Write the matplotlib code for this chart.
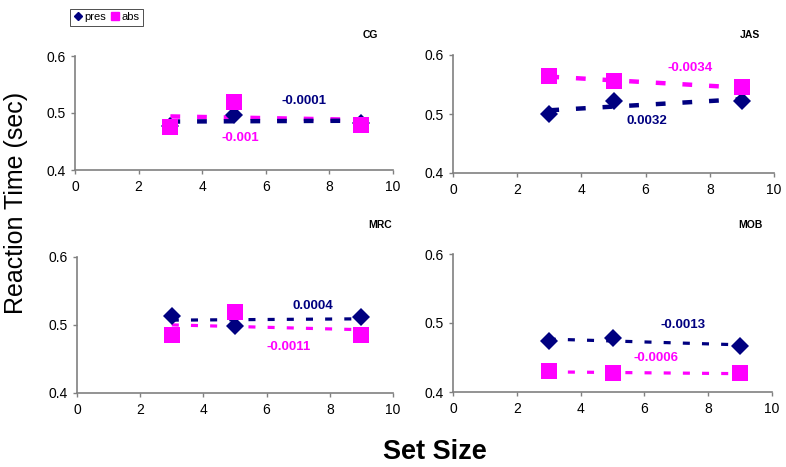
import numpy as np
import matplotlib
matplotlib.use("Agg")
import matplotlib.pyplot as plt
from matplotlib.lines import Line2D

plt.rcParams['font.family'] = ['Liberation Sans', 'DejaVu Sans']

set_size = [3, 5, 9]
panels = ["CG", "JAS", "MRC", "MOB"]

pres = {
    "CG":  [0.478, 0.496, 0.483],
    "JAS": [0.500, 0.522, 0.522],
    "MRC": [0.513, 0.499, 0.512],
    "MOB": [0.474, 0.478, 0.467],
}
pres_err = {
    "CG":  [0.008, 0.003, 0.010],
    "JAS": [0.003, 0.004, 0.003],
    "MRC": [0.004, 0.004, 0.009],
    "MOB": [0.002, 0.003, 0.002],
}
absent = {
    "CG":  [0.476, 0.519, 0.479],
    "JAS": [0.564, 0.556, 0.545],
    "MRC": [0.486, 0.519, 0.486],
    "MOB": [0.430, 0.427, 0.427],
}
absent_err = {
    "CG":  [0.003, 0.004, 0.003],
    "JAS": [0.003, 0.003, 0.003],
    "MRC": [0.006, 0.004, 0.004],
    "MOB": [0.002, 0.002, 0.002],
}
pres_slope_label = {"CG": "-0.0001", "JAS": "0.0032", "MRC": "0.0004", "MOB": "-0.0013"}
abs_slope_label = {"CG": "-0.001", "JAS": "-0.0034", "MRC": "-0.0011", "MOB": "-0.0006"}
pres_label_pos = {"CG": (7.2, 0.521), "JAS": (6.05, 0.488), "MRC": (7.45, 0.528), "MOB": (7.2, 0.497)}
abs_label_pos = {"CG": (5.2, 0.456), "JAS": (7.4, 0.578), "MRC": (6.7, 0.468), "MOB": (6.35, 0.449)}

NAVY = "#000080"
MAG = "#FF00FF"
SPINE = "#808080"

fig = plt.figure(figsize=(7.86, 4.67), dpi=100)
rects = {
    "CG":  [75/786, 1-170/467, 318/786, 114/467],
    "JAS": [453/786, 1-173/467, 321/786, 118/467],
    "MRC": [77/786, 1-393/467, 316/786, 136/467],
    "MOB": [453/786, 1-392/467, 319/786, 138/467],
}
title_pos = {"CG": (370, 35), "JAS": (750, 35), "MRC": (380, 225), "MOB": (750, 225)}

for name in panels:
    ax = fig.add_axes(rects[name])
    top = name in ("CG", "JAS")
    lw = 3.2 if top else 2.3
    xs = np.array(set_size, dtype=float)
    for vals, col, z in ((absent[name], MAG, 2), (pres[name], NAVY, 3)):
        k, b = np.polyfit(xs, vals, 1)
        ax.plot(xs, k*xs + b, color=col, lw=lw, linestyle=(0, (2.2, 3.8)),
                dash_capstyle='butt', zorder=z)
    # pres series (behind abs markers)
    ax.errorbar(set_size, pres[name], yerr=pres_err[name], fmt='D', color=NAVY,
                ms=9, ecolor=NAVY, elinewidth=1.5, capsize=3, mew=0, zorder=4)
    # abs series
    ax.errorbar(set_size, absent[name], yerr=absent_err[name], fmt='s', color=MAG,
                ms=11, ecolor=MAG, elinewidth=1.5, capsize=3, mew=0, zorder=5)
    ax.text(*pres_label_pos[name], pres_slope_label[name], color=NAVY, fontsize=9.5,
            fontweight='bold', ha='center', va='center', zorder=7)
    ax.text(*abs_label_pos[name], abs_slope_label[name], color=MAG, fontsize=9.5,
            fontweight='bold', ha='center', va='center', zorder=7)
    ax.set_xlim(0, 10)
    ax.set_ylim(0.4, 0.6)
    ax.set_xticks([0, 2, 4, 6, 8, 10])
    ax.set_yticks([0.4, 0.5, 0.6])
    ax.set_yticklabels(["0.4", "0.5", "0.6"])
    for s in ("top", "right"):
        ax.spines[s].set_visible(False)
    for s in ("left", "bottom"):
        ax.spines[s].set_color(SPINE)
        ax.spines[s].set_linewidth(1.2)
    ax.tick_params(direction='out', length=3, width=1, color=SPINE, labelsize=10, pad=4)
    tx, ty = title_pos[name]
    fig.text(tx/786, 1-ty/467, name, fontsize=7.5, fontweight='bold', ha='center', va='center')

fig.text(16/786, 1-203/467, "Reaction Time (sec)", rotation=90, fontsize=18,
         ha='center', va='center')
fig.text(435/786, 1-452/467, "Set Size", fontsize=19.5, fontweight='bold',
         ha='center', va='center')

handles = [Line2D([], [], marker='D', color=NAVY, ls='none', ms=4.5),
           Line2D([], [], marker='s', color=MAG, ls='none', ms=5.5)]
leg = fig.legend(handles, ["pres", "abs"], loc='upper left',
                 bbox_to_anchor=(70/786, 1-9/467), ncol=2, fontsize=8,
                 frameon=True, fancybox=False, handlelength=0.8, handletextpad=0.2,
                 columnspacing=0.4, borderpad=0.3, borderaxespad=0)
leg.get_frame().set_edgecolor("#000000")
leg.get_frame().set_linewidth(0.6)

fig.savefig("out.png", dpi=100)
